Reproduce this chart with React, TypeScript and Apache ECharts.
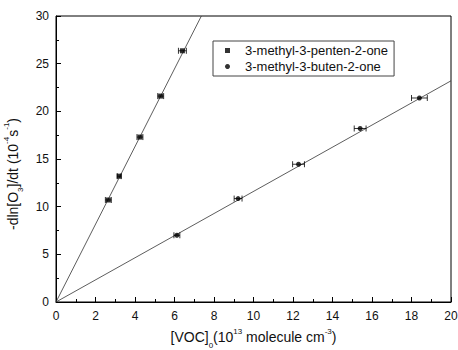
import React, { useEffect, useRef } from "react";
import * as echarts from "echarts";

const pentenone: number[][] = [
  [2.65, 10.7, 0.15],
  [3.2, 13.2, 0.1],
  [4.25, 17.3, 0.15],
  [5.3, 21.6, 0.15],
  [6.4, 26.35, 0.2],
];
const butenone: number[][] = [
  [6.12, 7.0, 0.15],
  [9.22, 10.85, 0.2],
  [12.28, 14.45, 0.3],
  [15.4, 18.2, 0.3],
  [18.4, 21.4, 0.4],
];
const fit1: number[][] = [
  [0, 0],
  [7.36, 30],
];
const fit2: number[][] = [
  [0, 0],
  [20, 23.2],
];
const legendNames = ["3-methyl-3-penten-2-one", "3-methyl-3-buten-2-one"];

const FONT = "Liberation Sans, Arial, sans-serif";

function errorBars(data: number[][], name: string) {
  return {
    type: "custom",
    name: name + "-err",
    silent: true,
    data,
    encode: { x: 0, y: 1 },
    z: 3,
    renderItem: (params: any, api: any) => {
      const x = api.value(0);
      const y = api.value(1);
      const e = api.value(2);
      const p1 = api.coord([x - e, y]);
      const p2 = api.coord([x + e, y]);
      const cap = 3;
      const st = { stroke: "#000", lineWidth: 0.8 };
      return {
        type: "group",
        children: [
          { type: "line", shape: { x1: p1[0], y1: p1[1], x2: p2[0], y2: p2[1] }, style: st },
          { type: "line", shape: { x1: p1[0], y1: p1[1] - cap, x2: p1[0], y2: p1[1] + cap }, style: st },
          { type: "line", shape: { x1: p2[0], y1: p2[1] - cap, x2: p2[0], y2: p2[1] + cap }, style: st },
        ],
      };
    },
  };
}

const nameRich = {
  a: { fontSize: 14, fontFamily: FONT, color: "#111", lineHeight: 18, verticalAlign: "middle" },
  sub: { fontSize: 8, fontFamily: FONT, color: "#111", lineHeight: 18, verticalAlign: "bottom", padding: [0, 0, -3, 0] },
  sup: { fontSize: 8, fontFamily: FONT, color: "#111", lineHeight: 18, verticalAlign: "top", padding: [-1, 0, 0, 0] },
};

export default function App() {
  const ref = useRef<HTMLDivElement>(null);
  useEffect(() => {
    const chart = echarts.init(ref.current!, null, { renderer: "svg" });
    const tickLabel = { color: "#111", fontSize: 12, fontFamily: FONT };
    chart.setOption({
      animation: false,
      backgroundColor: "#fff",
      grid: {
        left: 56,
        right: 7,
        top: 16,
        bottom: 48,
        show: true,
        borderColor: "#000",
        borderWidth: 1,
        backgroundColor: "transparent",
        outerBoundsMode: "none",
        containLabel: false,
      },
      legend: {
        data: legendNames.map((n, i) => ({ name: n, icon: i === 0 ? "rect" : "circle" })),
        orient: "vertical",
        left: 213,
        top: 41,
        itemWidth: 5,
        itemHeight: 5,
        itemGap: 3,
        padding: [3, 6, 3, 12],
        borderColor: "#444",
        borderWidth: 1,
        borderRadius: 0,
        backgroundColor: "#fff",
        textStyle: { color: "#111", fontSize: 13, fontFamily: FONT, padding: [0, 0, 0, 10] },
      },
      xAxis: {
        type: "value",
        min: 0,
        max: 20,
        interval: 2,
        axisLine: { lineStyle: { color: "#000", width: 1 } },
        axisTick: { inside: true, length: 5, lineStyle: { color: "#000" } },
        minorTick: { show: true, splitNumber: 2, length: 3, lineStyle: { color: "#000" } },
        splitLine: { show: false },
        axisLabel: { ...tickLabel, margin: 8 },
        name: "{a|[VOC]}{sub|0}{a|(10}{sup|13}{a| molecule cm}{sup|-3}{a|)}",
        nameLocation: "middle",
        nameGap: 26,
        nameTextStyle: { fontFamily: FONT, rich: nameRich },
      },
      yAxis: {
        type: "value",
        min: 0,
        max: 30,
        interval: 5,
        axisLine: { show: true, lineStyle: { color: "#000", width: 1 } },
        axisTick: { show: true, inside: true, length: 5, lineStyle: { color: "#000" } },
        minorTick: { show: true, splitNumber: 2, length: 3, lineStyle: { color: "#000" } },
        splitLine: { show: false },
        axisLabel: { ...tickLabel, margin: 7 },
        name: "{a|-dln[O}{sub|3}{a|]/dt (10}{sup|-4}{a|s}{sup|-1}{a|)}",
        nameLocation: "middle",
        nameGap: 25,
        nameRotate: 90,
        nameTextStyle: { fontFamily: FONT, rich: nameRich, padding: [0, 30, 0, 0] },
      },
      series: [
        {
          type: "line",
          data: fit1,
          symbol: "none",
          silent: true,
          lineStyle: { color: "#333", width: 0.8 },
          z: 1,
        },
        {
          type: "line",
          data: fit2,
          symbol: "none",
          silent: true,
          lineStyle: { color: "#333", width: 0.8 },
          z: 1,
        },
        errorBars(pentenone, "p"),
        errorBars(butenone, "b"),
        {
          type: "scatter",
          name: legendNames[0],
          data: pentenone.map((d) => [d[0], d[1]]),
          symbol: "rect",
          symbolSize: 5,
          itemStyle: { color: "#000" },
          z: 4,
        },
        {
          type: "scatter",
          name: legendNames[1],
          data: butenone.map((d) => [d[0], d[1]]),
          symbol: "circle",
          symbolSize: 5,
          itemStyle: { color: "#000" },
          z: 4,
        },
      ],
    });
    return () => chart.dispose();
  }, []);
  return (
    <div
      ref={ref}
      style={{ position: "fixed", left: 0, top: 0, width: 458, height: 350, overflow: "hidden" }}
    />
  );
}
